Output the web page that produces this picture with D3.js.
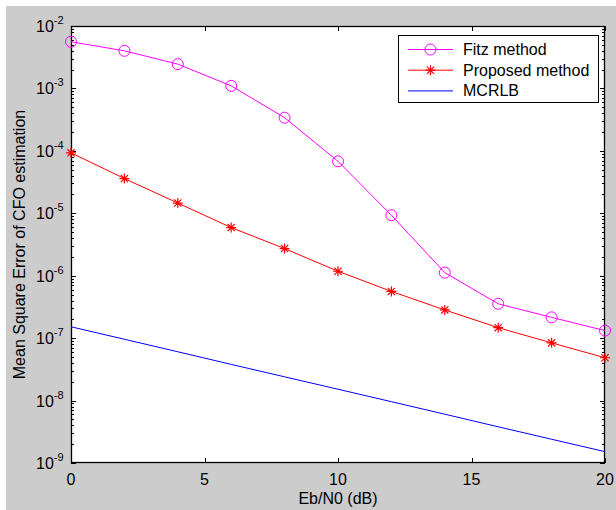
<!DOCTYPE html>
<html>
<head>
<meta charset="utf-8">
<script src="https://cdn.jsdelivr.net/npm/d3@7"></script>
<style>
    body { margin: 0; background: #fff; }
    svg { display: block; font-family: "Liberation Sans", Arial, sans-serif; }
</style>
</head>
<body>
<svg id="chart" width="616" height="510"></svg>
<script>
// 数据
const snr = [0, 2, 4, 6, 8, 10, 12, 14, 16, 18, 20];
const fitz = [5.6e-3, 4.0e-3, 2.45e-3, 1.1e-3, 3.4e-4, 6.8e-5, 9.3e-6, 1.12e-6, 3.55e-7, 2.15e-7, 1.32e-7];
const proposed = [9.3e-5, 3.6e-5, 1.46e-5, 5.9e-6, 2.72e-6, 1.18e-6, 5.6e-7, 2.83e-7, 1.47e-7, 8.4e-8, 4.85e-8];
const mcrlb = [1.52e-7, 9.6e-8, 6.05e-8, 3.8e-8, 2.4e-8, 1.52e-8, 9.6e-9, 6.05e-9, 3.8e-9, 2.4e-9, 1.52e-9];
const xTicks = [0, 5, 10, 15, 20];
const yExps = [-2, -3, -4, -5, -6, -7, -8, -9];
const legendNames = ["Fitz method", "Proposed method", "MCRLB"];

const FONT = 16;
let svg = d3.select("#chart");

// 灰色背景
svg.append("rect")
    .attr("x", 6).attr("y", 6)
    .attr("width", 610).attr("height", 504)
    .attr("fill", "#cccccc");

let pLeft = 71, pRight = 605, pTop = 26, pBottom = 463;

let x = d3.scaleLinear().domain([0, 20]).range([pLeft, pRight]);
let y = d3.scaleLog().domain([1e-9, 1e-2]).range([pBottom, pTop]);

// 绘图区
svg.append("rect")
    .attr("x", pLeft).attr("y", pTop)
    .attr("width", pRight - pLeft).attr("height", pBottom - pTop)
    .attr("fill", "#fff");

let axes = svg.append("g").attr("stroke", "#000").attr("stroke-width", 1);

// x 刻度 (上下)
xTicks.forEach(t => {
    let px = Math.round(x(t)) + 0.5;
    axes.append("line").attr("x1", px).attr("x2", px).attr("y1", pBottom).attr("y2", pBottom - 5);
    axes.append("line").attr("x1", px).attr("x2", px).attr("y1", pTop).attr("y2", pTop + 5);
    svg.append("text")
        .attr("x", x(t)).attr("y", 485)
        .attr("text-anchor", "middle")
        .attr("font-size", FONT)
        .text(t);
});

// y 刻度 (左右, 含次刻度)
yExps.forEach(e => {
    let py = Math.round(y(Math.pow(10, e))) + 0.5;
    axes.append("line").attr("x1", pLeft).attr("x2", pLeft + 5).attr("y1", py).attr("y2", py);
    axes.append("line").attr("x1", pRight).attr("x2", pRight - 5).attr("y1", py).attr("y2", py);
    if (e > -9) {
        for (let m = 2; m <= 9; m++) {
            let my = Math.round(y(m * Math.pow(10, e - 1))) + 0.5;
            axes.append("line").attr("x1", pLeft).attr("x2", pLeft + 3).attr("y1", my).attr("y2", my);
            axes.append("line").attr("x1", pRight).attr("x2", pRight - 3).attr("y1", my).attr("y2", my);
        }
    }
    let label = svg.append("text")
        .attr("x", 36).attr("y", y(Math.pow(10, e)) + 6)
        .attr("font-size", FONT);
    label.append("tspan").text("10");
    label.append("tspan")
        .attr("dy", -8)
        .attr("font-size", 11)
        .text(e);
});

// 坐标框
svg.append("rect")
    .attr("x", pLeft + 0.5).attr("y", pTop + 0.5)
    .attr("width", pRight - pLeft - 1).attr("height", pBottom - pTop - 1)
    .attr("fill", "none")
    .attr("stroke", "#000")
    .attr("stroke-width", 1.3);

// 曲线
let line = d3.line().x((d, i) => x(snr[i])).y(d => y(d));

let series = [
    { values: fitz, color: "#ff00ff", marker: "circle" },
    { values: proposed, color: "#ff0000", marker: "star" },
    { values: mcrlb, color: "#0000ff", marker: "none" }
];

function drawMarker(g, type, cx, cy, color) {
    if (type === "circle") {
        g.append("circle")
            .attr("cx", cx).attr("cy", cy).attr("r", 5.5)
            .attr("fill", "none").attr("stroke", color).attr("stroke-width", 1);
    } else if (type === "star") {
        let r = 5, d = 3.6;
        let p = `M${cx - r},${cy}L${cx + r},${cy}M${cx},${cy - r}L${cx},${cy + r}`
            + `M${cx - d},${cy - d}L${cx + d},${cy + d}M${cx - d},${cy + d}L${cx + d},${cy - d}`;
        g.append("path").attr("d", p).attr("stroke", color).attr("stroke-width", 1.2).attr("fill", "none");
    }
}

series.forEach(s => {
    svg.append("path")
        .attr("d", line(s.values))
        .attr("fill", "none")
        .attr("stroke", s.color)
        .attr("stroke-width", 1);
    let g = svg.append("g");
    s.values.forEach((v, i) => drawMarker(g, s.marker, x(snr[i]), y(v), s.color));
});

// 图例
let lg = svg.append("g");
lg.append("rect")
    .attr("x", 398.5).attr("y", 35.5)
    .attr("width", 200).attr("height", 67)
    .attr("fill", "#fff")
    .attr("stroke", "#000")
    .attr("stroke-width", 1);
legendNames.forEach((name, i) => {
    let ly = 49.5 + i * 20.7;
    let s = series[i];
    lg.append("line")
        .attr("x1", 408).attr("x2", 453)
        .attr("y1", ly).attr("y2", ly)
        .attr("stroke", s.color).attr("stroke-width", 1);
    drawMarker(lg, s.marker, 430.5, ly, s.color);
    lg.append("text")
        .attr("x", 463).attr("y", ly + 5.5)
        .attr("font-size", 16)
        .text(name);
});

// 轴标题
svg.append("text")
    .attr("x", (pLeft + pRight) / 2).attr("y", 504)
    .attr("text-anchor", "middle")
    .attr("font-size", 16)
    .text("Eb/N0 (dB)");

svg.append("text")
    .attr("transform", `translate(25,${(pTop + pBottom) / 2}) rotate(-90)`)
    .attr("text-anchor", "middle")
    .attr("font-size", 16)
    .text("Mean Square Error of CFO estimation");
</script>
</body>
</html>
